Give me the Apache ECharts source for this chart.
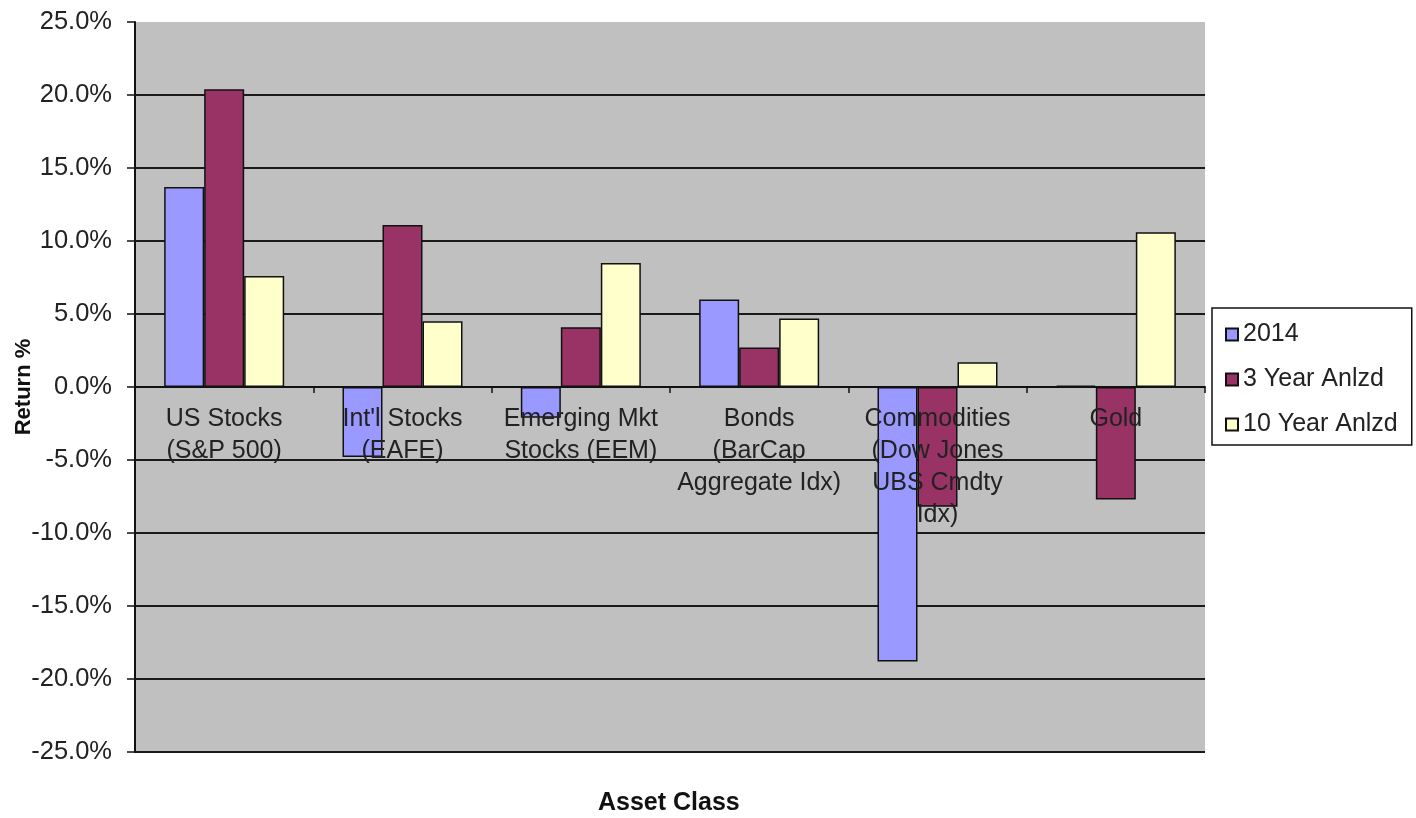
<!DOCTYPE html>
<html>
<head>
<meta charset="utf-8">
<script src="https://cdn.jsdelivr.net/npm/echarts@6/dist/echarts.min.js"></script>
<style>
  html, body { margin: 0; padding: 0; background: #fff; }
  #chart { width: 1416px; height: 818px; }
</style>
</head>
<body>
<div id="chart"></div>
<script>
// Asset class returns (%)
const categories = [
  'US Stocks\n(S&P 500)',
  "Int'l Stocks\n(EAFE)",
  'Emerging Mkt\nStocks (EEM)',
  'Bonds\n(BarCap\nAggregate Idx)',
  'Commodities\n(Dow Jones\nUBS Cmdty\nIdx)',
  'Gold'
];
const seriesNames = ['2014', '3 Year Anlzd', '10 Year Anlzd'];
const ret2014 = [13.7, -4.8, -2.1, 6.0, -18.8, 0.1];
const ret3Year = [20.4, 11.1, 4.1, 2.7, -8.2, -7.7];
const ret10Year = [7.6, 4.5, 8.5, 4.7, 1.7, 10.6];
const yMin = -25, yMax = 25, yStep = 5;

const FONT = '"Liberation Sans", Arial, sans-serif';
const colors = ['#9999ff', '#993366', '#ffffcc'];
const seriesData = [ret2014, ret3Year, ret10Year];

// plot rectangle
const GRID = { left: 135, right: 211, top: 22, bottom: 66 };
const plotHeight = 818 - GRID.top - GRID.bottom;
// lift the category axis from the bottom edge up to the 0% line
const zeroOffset = -plotHeight * (0 - yMin) / (yMax - yMin);

const chart = echarts.init(document.getElementById('chart'), null, { renderer: 'canvas' });

chart.setOption({
  animation: false,
  backgroundColor: '#ffffff',
  textStyle: { fontFamily: FONT },
  title: {
    text: 'Asset Class',
    left: 593,
    top: 786,
    textStyle: { fontFamily: FONT, fontSize: 25, fontWeight: 'bold', color: '#111' }
  },
  legend: {
    orient: 'vertical',
    left: 1212,
    top: 308,
    padding: [14, 14, 8, 13],
    itemGap: 20,
    itemWidth: 12,
    itemHeight: 12,
    itemTextGap: 10,
    icon: 'rect',
    backgroundColor: '#ffffff',
    borderColor: '#111',
    borderWidth: 1.5,
    borderRadius: 0,
    textStyle: { fontFamily: FONT, fontSize: 25, color: '#222' },
    data: seriesNames
  },
  grid: {
    left: GRID.left,
    right: GRID.right,
    top: GRID.top,
    bottom: GRID.bottom,
    containLabel: false,
    outerBoundsMode: 'none',
    show: true,
    backgroundColor: '#c0c0c0',
    borderWidth: 0
  },
  xAxis: {
    type: 'category',
    data: categories,
    z: 10,
    offset: zeroOffset,
    axisLine: { onZero: false, lineStyle: { color: '#111', width: 2 } },
    axisTick: { show: true, length: 6, lineStyle: { color: '#111', width: 1.5 } },
    axisLabel: {
      interval: 0,
      margin: 16,
      fontFamily: FONT,
      fontSize: 25,
      lineHeight: 32,
      color: '#222'
    },
    splitLine: { show: false }
  },
  yAxis: {
    type: 'value',
    min: yMin,
    max: yMax,
    interval: yStep,
    name: 'Return %',
    nameLocation: 'middle',
    nameRotate: 90,
    nameGap: 100,
    nameMoveOverlap: false,
    nameTextStyle: { fontFamily: FONT, fontSize: 22, fontWeight: 'bold', color: '#111' },
    axisLine: { show: true, lineStyle: { color: '#111', width: 2 } },
    axisTick: { show: true, length: 8, lineStyle: { color: '#111', width: 1.5 } },
    axisLabel: {
      margin: 23,
      fontFamily: FONT,
      fontSize: 25.5,
      color: '#222',
      formatter: v => v.toFixed(1) + '%'
    },
    splitLine: { show: true, showMaxLine: false, lineStyle: { color: '#1a1a1a', width: 1.8 } }
  },
  series: seriesNames.map((name, i) => ({
    name: name,
    type: 'bar',
    data: seriesData[i],
    barWidth: 40,
    barGap: '0%',
    itemStyle: { color: colors[i], borderColor: '#111', borderWidth: 1.5 }
  }))
});
</script>
</body>
</html>
